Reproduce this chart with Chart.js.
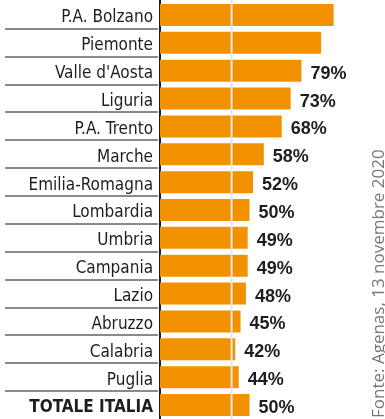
<!DOCTYPE html>
<html>
<head>
<meta charset="utf-8">
<script src="https://cdn.jsdelivr.net/npm/chart.js@4"></script>
<style>
  html, body { margin: 0; padding: 0; background: #fff; }
  #wrap { position: relative; width: 385px; height: 419px; }
</style>
</head>
<body>
<div id="wrap"><canvas id="regioni" width="385" height="419"></canvas></div>
<script>
const regioni = ['P.A. Bolzano', 'Piemonte', "Valle d'Aosta", 'Liguria', 'P.A. Trento', 'Marche',
  'Emilia-Romagna', 'Lombardia', 'Umbria', 'Campania', 'Lazio', 'Abruzzo', 'Calabria', 'Puglia', 'TOTALE ITALIA'];
const valori = [97, 90, 79, 73, 68, 58, 52, 50, 49, 49, 48, 45, 42, 44, 50];
// le prime due etichette non si leggono nell'immagine
const etichette = ['', '', '79%', '73%', '68%', '58%', '52%', '50%', '49%', '49%', '48%', '45%', '42%', '44%', '50%'];
const soglia = 40;
const fonte = 'Fonte: Agenas, 13 novembre 2020';

const extra = {
  id: 'extra',
  afterDatasetsDraw(chart) {
    const c = chart.ctx;
    const x = chart.scales.x, y = chart.scales.y;
    const area = chart.chartArea;
    c.save();
    // linee di separazione a sinistra
    c.strokeStyle = '#8a8a8a';
    c.lineWidth = 2;
    for (let i = 0; i < regioni.length - 1; i++) {
      const yy = Math.round((y.getPixelForValue(i) + y.getPixelForValue(i + 1)) / 2);
      c.beginPath();
      c.moveTo(5, yy);
      c.lineTo(area.left - 2, yy);
      c.stroke();
    }
    // linea soglia 40%
    const xs = x.getPixelForValue(soglia);
    c.strokeStyle = '#dfe7ea';
    c.lineWidth = 2;
    c.beginPath();
    c.moveTo(xs, 0);
    c.lineTo(xs, chart.height);
    c.stroke();
    // percentuali
    c.fillStyle = '#1e1e1e';
    c.font = 'bold 18px "Liberation Sans", Arial, sans-serif';
    c.textBaseline = 'middle';
    c.textAlign = 'left';
    etichette.forEach((t, i) => {
      if (!t) return;
      c.fillText(t, x.getPixelForValue(valori[i]) + 9, y.getPixelForValue(i) + 3);
    });
    // fonte
    c.translate(384, 418);
    c.rotate(-Math.PI / 2);
    c.fillStyle = '#777';
    c.font = '17px "Open Sans", sans-serif';
    c.textBaseline = 'alphabetic';
    c.fillText(fonte, 0, 0);
    c.restore();
  }
};

new Chart(document.getElementById('regioni'), {
  type: 'bar',
  data: {
    labels: regioni,
    datasets: [{
      data: valori,
      backgroundColor: '#f39200',
      borderWidth: 0,
      categoryPercentage: 1,
      barPercentage: 0.79
    }]
  },
  options: {
    indexAxis: 'y',
    responsive: false,
    animation: false,
    layout: {
      padding: { top: 1, right: 46, bottom: 0, left: 0 }
    },
    plugins: {
      legend: { display: false },
      tooltip: { enabled: false }
    },
    scales: {
      x: {
        display: false,
        min: 0,
        max: 100
      },
      y: {
        afterFit(scale) {
          scale.width = 160;
          scale.paddingTop = 0;
          scale.paddingBottom = 0;
        },
        border: { color: '#1c1c28', width: 2 },
        grid: { drawOnChartArea: false, drawTicks: false },
        ticks: {
          color: '#1e1e1e',
          padding: 7,
          labelOffset: 3,
          autoSkip: false,
          font: (ctx) => ({
            family: '"Liberation Sans Narrow", "DejaVu Sans Condensed", sans-serif',
            size: 17,
            weight: ctx.index === 14 ? 'bold' : 'normal'
          })
        }
      }
    }
  },
  plugins: [extra]
});
</script>
</body>
</html>
